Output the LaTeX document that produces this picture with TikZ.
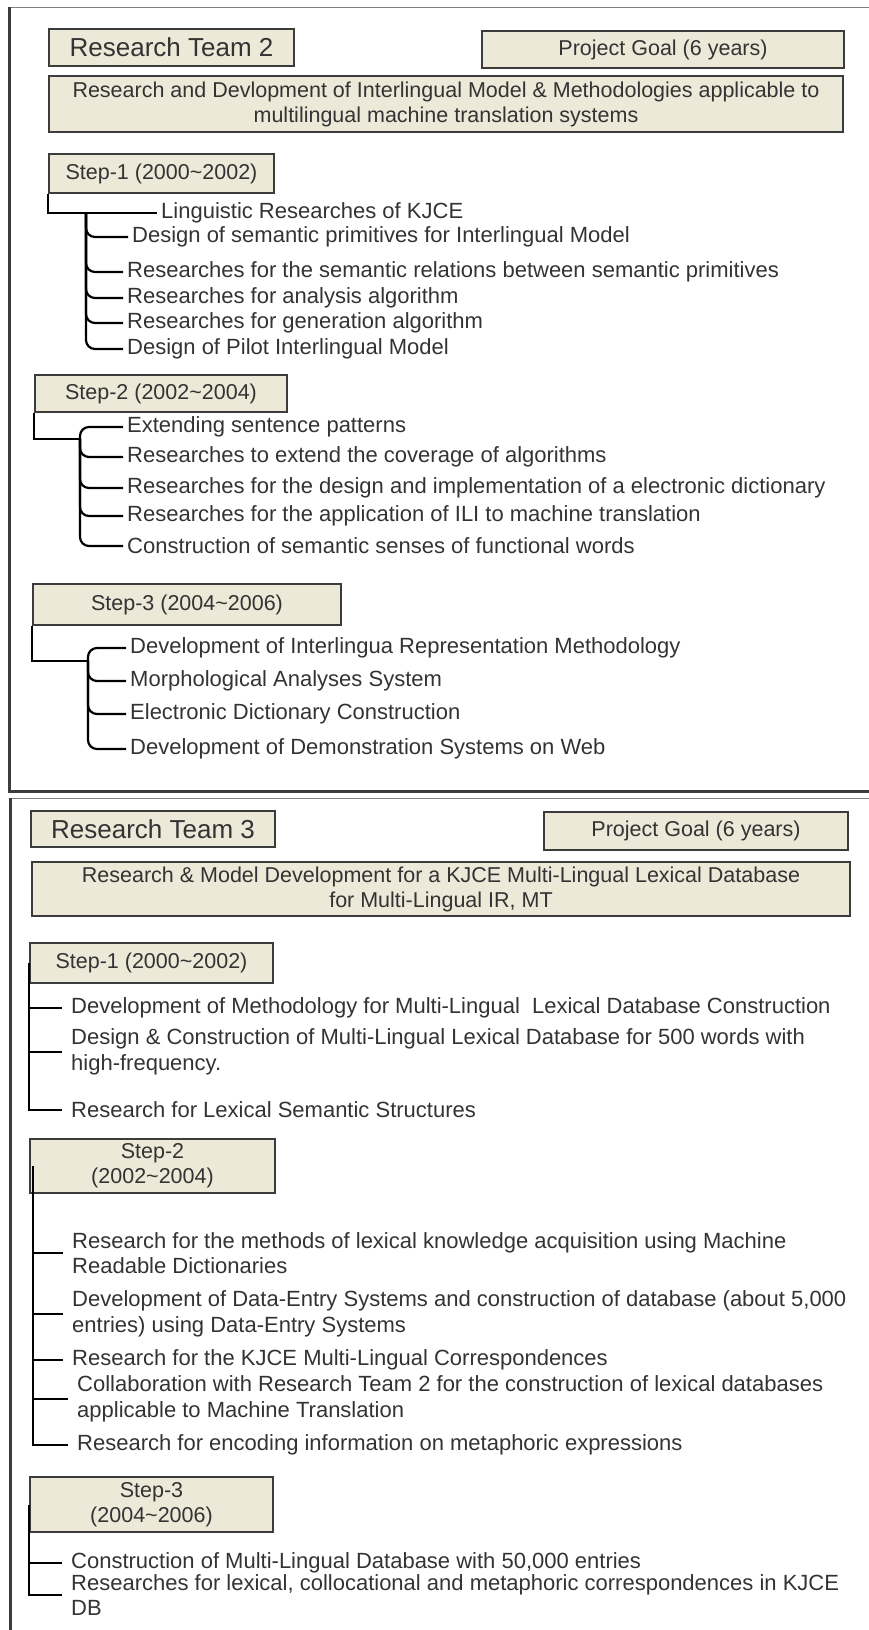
\documentclass[tikz,border=0pt]{standalone}
\usepackage{fontspec}
\setmainfont{Liberation Sans}
\usepackage{tikz}
\definecolor{boxfill}{HTML}{ECE9D8}
\definecolor{boxline}{HTML}{3C3C3C}
\definecolor{ink}{HTML}{333333}
\newcommand{\yrs}[2]{(#1\textasciitilde#2)}
\tikzset{head box/.style={draw=boxline, fill=boxfill, line width=1.8pt, inner sep=0, align=center, text=ink, font=\fontsize{21.5}{25}\selectfont}}
\tikzset{team box/.style={head box, font=\fontsize{26}{30}\selectfont}}
\tikzset{item/.style={anchor=west, inner xsep=4pt, inner ysep=1pt, align=left, text=ink, font=\fontsize{22}{25.5}\selectfont}}
\tikzset{entry/.style={item, inner xsep=9pt}}
\tikzset{tree/.style={draw=black, line width=2.2pt}}
\tikzset{thin tree/.style={draw=black, line width=1.4pt}}

\begin{document}
\begin{tikzpicture}[x=1pt, y=-1pt]
  \useasboundingbox (0,0) rectangle (869,1630);

  % frames
  \draw[gray, line width=1pt] (9,7) -- (869,7);
  \draw[boxline, line width=3pt] (9,7) -- (9,791) -- (869,791);
  \draw[gray, line width=1pt] (10,798) -- (869,798);
  \draw[boxline, line width=3pt] (10,798) -- (10,1630);

  % research team 2
  \node[team box, minimum width=245, minimum height=37] at (171.5, 47.5) (team2) {Research Team 2};
  \node[head box, minimum width=362, minimum height=37] at (663, 49.5) (goal2) {Project Goal (6 years)};
  \node[head box, minimum width=794, minimum height=56] at (446, 104) (aim2) {Research and Devlopment of Interlingual Model \& Methodologies applicable to\\multilingual machine translation systems};

  \node[head box, minimum width=225, minimum height=39] at (161.5, 173.5) (s21) {Step-1 \yrs{2000}{2002}};
  \coordinate (j21) at (86, 213);
  \node[item] at (157, 213) (l211) {Linguistic Researches of KJCE};
  \node[item] at (128, 237) (l212) {Design of semantic primitives for Interlingual Model};
  \node[item] at (123, 272) (l213) {Researches for the semantic relations between semantic primitives};
  \node[item] at (123, 298) (l214) {Researches for analysis algorithm};
  \node[item] at (123, 323) (l215) {Researches for generation algorithm};
  \node[item] at (123, 349) (l216) {Design of Pilot Interlingual Model};
  \draw[tree] (s21.south west) |- (l211.west);
  \foreach \i in {2,...,6}
    \draw[tree, rounded corners=9pt] (j21) |- (l21\i.west);

  \node[head box, minimum width=252, minimum height=37] at (161, 393.5) (s22) {Step-2 \yrs{2002}{2004}};
  \coordinate (j22) at (80, 439);
  \node[item] at (123, 427) (l221) {Extending sentence patterns};
  \node[item] at (123, 457) (l222) {Researches to extend the coverage of algorithms};
  \node[item] at (123, 488) (l223) {Researches for the design and implementation of a electronic dictionary};
  \node[item] at (123, 516) (l224) {Researches for the application of ILI to machine translation};
  \node[item] at (123, 546) (l225) {Construction of semantic senses of functional words};
  \draw[tree] (s22.south west) |- (j22);
  \foreach \i in {1,...,5}
    \draw[tree, rounded corners=9pt] (j22) |- (l22\i.west);

  \node[head box, minimum width=308, minimum height=41] at (187, 604.5) (s23) {Step-3 \yrs{2004}{2006}};
  \coordinate (j23) at (88, 661);
  \node[item] at (126, 648) (l231) {Development of Interlingua Representation Methodology};
  \node[item] at (126, 681) (l232) {Morphological Analyses System};
  \node[item] at (126, 714) (l233) {Electronic Dictionary Construction};
  \node[item] at (126, 749) (l234) {Development of Demonstration Systems on Web};
  \draw[tree] (s23.south west) |- (j23);
  \foreach \i in {1,...,4}
    \draw[tree, rounded corners=9pt] (j23) |- (l23\i.west);

  % research team 3
  \node[team box, minimum width=244, minimum height=36] at (153, 829) (team3) {Research Team 3};
  \node[head box, minimum width=304, minimum height=38] at (696, 831) (goal3) {Project Goal (6 years)};
  \node[head box, minimum width=818, minimum height=54] at (441, 889) (aim3) {Research \& Model Development for a KJCE Multi-Lingual Lexical Database\\for Multi-Lingual IR, MT};

  \node[head box, minimum width=243, minimum height=40] at (151.5, 963) (t31) {Step-1 \yrs{2000}{2002}};
  \node[entry] at (62, 1008) (m311) {Development of Methodology for Multi-Lingual~ Lexical Database Construction};
  \node[entry] at (62, 1052) (m312) {Design \& Construction of Multi-Lingual Lexical Database for 500 words with\\high-frequency.};
  \node[entry] at (62, 1110) (m313) {Research for Lexical Semantic Structures};
  \foreach \i in {1,...,3}
    \draw[thin tree] (t31.west) |- (m31\i.west);

  \node[head box, minimum width=245, minimum height=54] at (152.5, 1166) (t32) {Step-2\\\yrs{2002}{2004}};
  \node[entry] at (63, 1253) (m321) {Research for the methods of lexical knowledge acquisition using Machine\\Readable Dictionaries};
  \node[entry] at (63, 1314) (m322) {Development of Data-Entry Systems and construction of database (about 5,000\\entries) using Data-Entry Systems};
  \node[entry] at (63, 1360) (m323) {Research for the KJCE Multi-Lingual Correspondences};
  \node[entry] at (68, 1399) (m324) {Collaboration with Research Team 2 for the construction of lexical databases\\applicable to Machine Translation};
  \node[entry] at (68, 1445) (m325) {Research for encoding information on metaphoric expressions};
  \foreach \i in {1,...,5}
    \draw[thin tree] (t32.west) ++(4,0) |- (m32\i.west);

  \node[head box, minimum width=243, minimum height=55] at (151.5, 1504.5) (t33) {Step-3\\\yrs{2004}{2006}};
  \node[entry] at (62, 1563) (m331) {Construction of Multi-Lingual Database with 50,000 entries};
  \node[entry] at (62, 1595) (m332) {Researches for lexical, collocational and metaphoric correspondences in KJCE\\DB};
  \foreach \i in {1,2}
    \draw[thin tree] (t33.west) |- (m33\i.west);
\end{tikzpicture}
\end{document}
